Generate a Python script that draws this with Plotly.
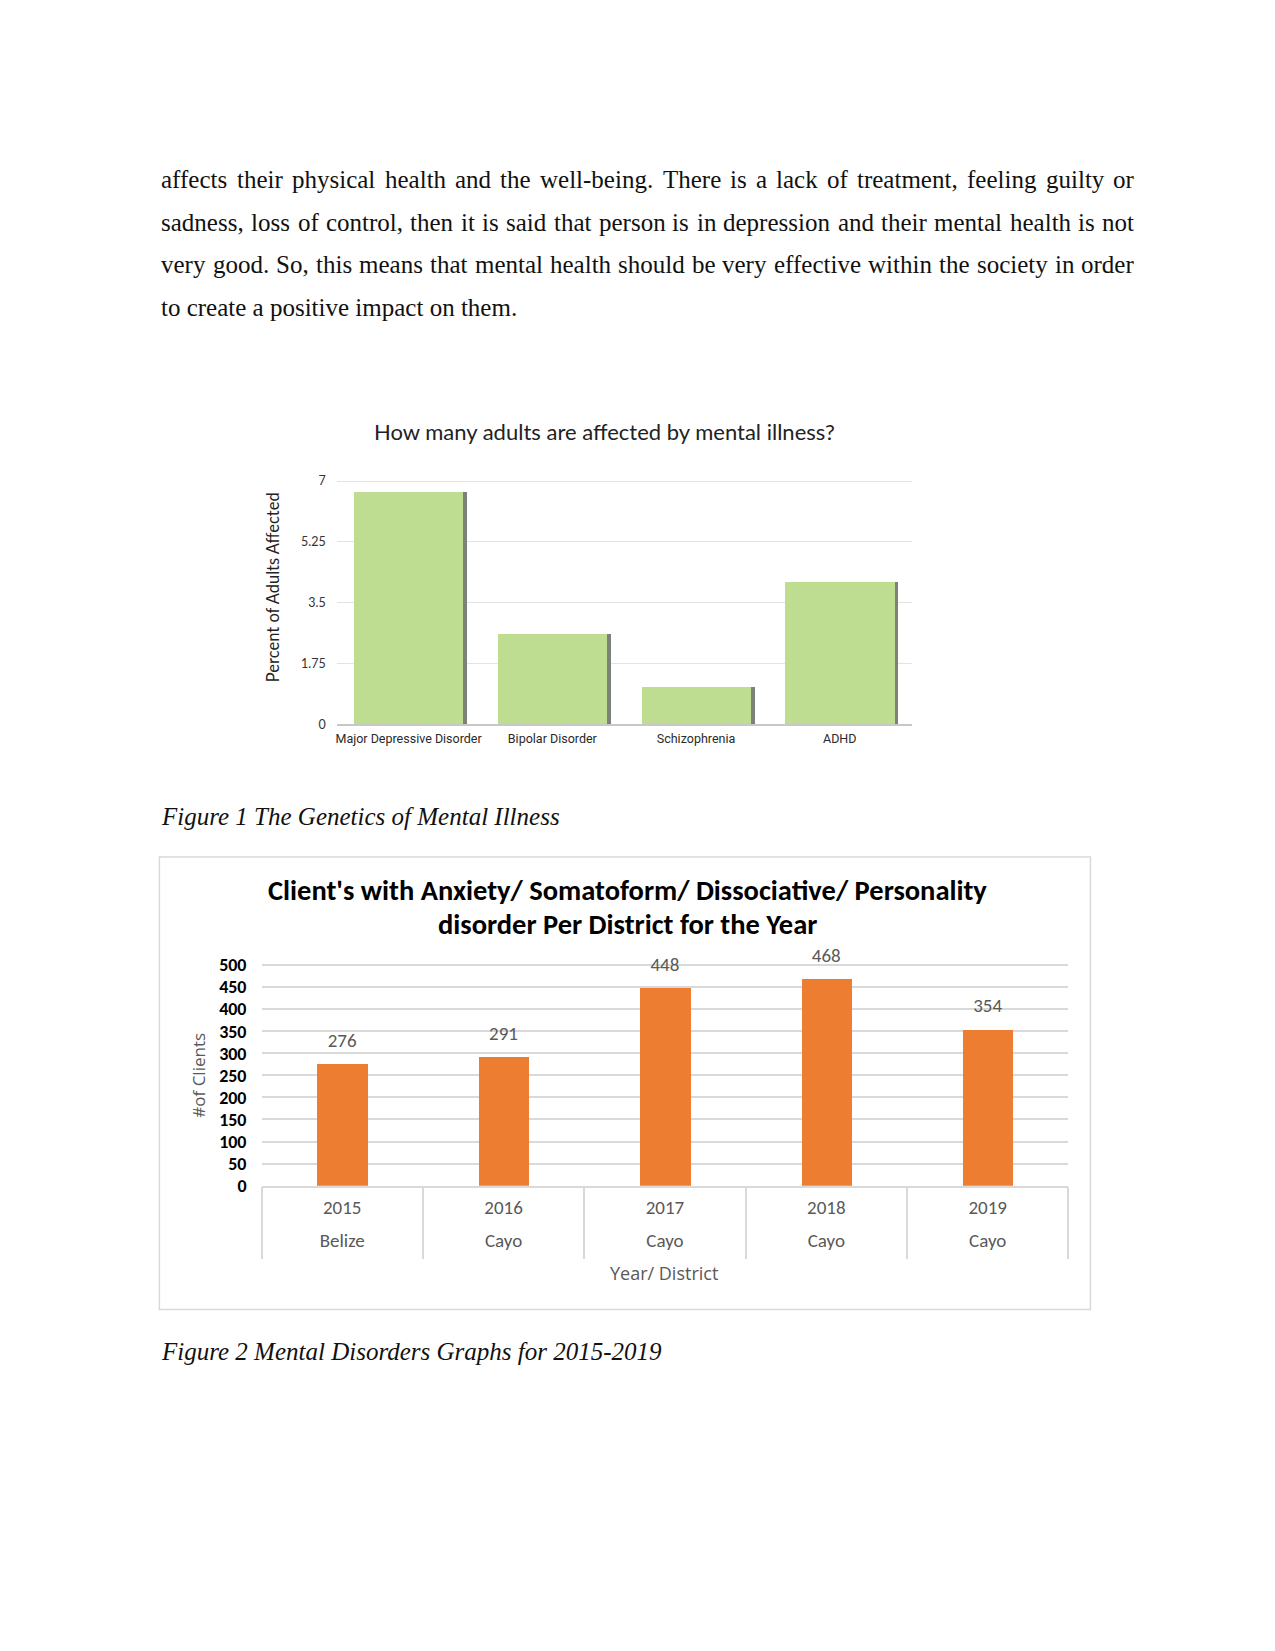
import plotly.graph_objects as go

W, H = 1275, 1651

def px(x):
    return x / W

def py(y):
    return 1 - y / H

# ---------------- data ----------------
fig1_categories = ["Major Depressive Disorder", "Bipolar Disorder", "Schizophrenia", "ADHD"]
fig1_values = [6.7, 2.6, 1.1, 4.1]
fig1_ytick_vals = [0, 1.75, 3.5, 5.25, 7]
fig1_ytick_text = ["0", "1.75", "3.5", "5.25", "7"]

fig2_years = ["2015", "2016", "2017", "2018", "2019"]
fig2_districts = ["Belize", "Cayo", "Cayo", "Cayo", "Cayo"]
fig2_values = [276, 291, 448, 468, 354]
fig2_ytick_vals = [0, 50, 100, 150, 200, 250, 300, 350, 400, 450, 500]

body_lines = [
    "affects their physical health and the well-being. There is a lack of treatment, feeling guilty or",
    "sadness, loss of control, then it is said that person is in depression and their mental health is not",
    "very good. So, this means that mental health should be very effective within the society in order",
    "to create a positive impact on them.",
]
body_justified = [True, True, True, False]

caption1 = "Figure 1 The Genetics of Mental Illness"
caption2 = "Figure 2 Mental Disorders Graphs for 2015-2019"

# ---------------- text layout helpers ----------------
TIMES_W = {
    'a': 444, 'b': 500, 'c': 444, 'd': 500, 'e': 444, 'f': 333, 'g': 500, 'h': 500, 'i': 278,
    'j': 278, 'k': 500, 'l': 278, 'm': 778, 'n': 500, 'o': 500, 'p': 500, 'q': 500, 'r': 333,
    's': 389, 't': 278, 'u': 500, 'v': 500, 'w': 722, 'x': 500, 'y': 500, 'z': 444,
    'A': 722, 'B': 667, 'C': 667, 'D': 722, 'E': 611, 'F': 556, 'G': 722, 'H': 722, 'I': 333,
    'J': 389, 'K': 722, 'L': 611, 'M': 889, 'N': 722, 'O': 722, 'P': 556, 'Q': 722, 'R': 667,
    'S': 556, 'T': 611, 'U': 722, 'V': 722, 'W': 944, 'X': 722, 'Y': 722, 'Z': 611,
    ' ': 250, '.': 250, ',': 250, '-': 333, '?': 444, "'": 333,
}

BODY_SIZE = 25
TEXT_LEFT = 150.5
TEXT_RIGHT = 1124.0
LINE_Y = [165.8, 208.5, 251.6, 294.8]


def word_width(w, size):
    return sum(TIMES_W.get(c, 500) for c in w) * size / 1000.0


# plot-area pixel frames (bottom = value 0, top = top tick)
F1_BOTTOM, F1_TOP = 716.7, 470.5
F2_BOTTOM, F2_TOP = 1183.3, 960.1
f1_max = max(fig1_ytick_vals) * 1.01
f2_max = max(fig2_ytick_vals) * 1.01
f1_top_px = F1_BOTTOM - (F1_BOTTOM - F1_TOP) * f1_max / max(fig1_ytick_vals)
f2_top_px = F2_BOTTOM - (F2_BOTTOM - F2_TOP) * f2_max / max(fig2_ytick_vals)

fig = go.Figure()

# ---------------- Figure 1 ----------------
fig.add_trace(go.Bar(
    x=fig1_categories, y=fig1_values, xaxis="x", yaxis="y",
    width=0.76, offset=-0.38 + 0.027,
    marker=dict(color="#7d8278", line=dict(width=0)),
    hoverinfo="skip", showlegend=False,
))
fig.add_trace(go.Bar(
    x=fig1_categories, y=fig1_values, xaxis="x", yaxis="y",
    width=0.76, offset=-0.38,
    marker=dict(color="#bfdd91", line=dict(width=0)),
    showlegend=False,
))

# ---------------- Figure 2 ----------------
fig.add_trace(go.Bar(
    x=fig2_years, y=fig2_values, xaxis="x2", yaxis="y2",
    width=0.313,
    marker=dict(color="#ed7d31", line=dict(width=0)),
    showlegend=False,
))
# data labels above the bars
fig.add_trace(go.Scatter(
    x=fig2_years, y=fig2_values, xaxis="x2", yaxis="y2",
    mode="markers+text", text=[str(v) for v in fig2_values], textposition="top center",
    marker=dict(size=18, opacity=0),
    textfont=dict(family="Carlito, Lato, sans-serif", size=19, color="#595959"),
    cliponaxis=False, hoverinfo="skip", showlegend=False,
))
# carriers for the district row and the divider ticks
fig.add_trace(go.Scatter(
    x=list(range(len(fig2_districts))), y=[0] * len(fig2_districts), xaxis="x3", yaxis="y2",
    mode="markers", marker=dict(opacity=0), hoverinfo="skip", showlegend=False,
))
fig.add_trace(go.Scatter(
    x=list(range(len(fig2_years))), y=[0] * len(fig2_years), xaxis="x4", yaxis="y2",
    mode="markers", marker=dict(opacity=0), hoverinfo="skip", showlegend=False,
))

fig.update_layout(
    width=W, height=H,
    margin=dict(l=0, r=0, t=0, b=0),
    paper_bgcolor="white", plot_bgcolor="rgba(0,0,0,0)",
    barmode="overlay",
    bargap=0,
    xaxis=dict(
        domain=[px(328.0), px(903.3)], anchor="y",
        showgrid=False, showline=True, linecolor="#c8c8c8", linewidth=1.5,
        ticks="", tickfont=dict(family="Liberation Sans Narrow, Roboto, sans-serif", size=12.5, color="#2a2a2a"),
        ticklabelstandoff=2,
    ),
    yaxis=dict(
        domain=[py(F1_BOTTOM), py(f1_top_px)], anchor="x", range=[0, f1_max],
        tickvals=fig1_ytick_vals, ticktext=fig1_ytick_text,
        showgrid=True, gridcolor="#e3e3e3", gridwidth=1.2,
        zeroline=False, showline=False, ticks="",
        tickfont=dict(family="Lato, sans-serif", size=12.5, color="#333333"),
        ticklabelstandoff=10,
    ),
    xaxis2=dict(
        domain=[px(252.7), px(1060.2)], anchor="y2",
        type="category",
        showgrid=False, showline=True, linecolor="#d9d9d9", linewidth=1.5,
        ticks="", tickfont=dict(family="Carlito, Lato, sans-serif", size=19, color="#595959"),
        ticklabelstandoff=4,
    ),
    xaxis3=dict(
        domain=[px(252.7), px(1060.2)], anchor="y2", overlaying="x2",
        range=[-0.5, len(fig2_districts) - 0.5],
        tickvals=list(range(len(fig2_districts))), ticktext=fig2_districts,
        showgrid=False, showline=False, zeroline=False, ticks="",
        tickfont=dict(family="Carlito, Lato, sans-serif", size=19, color="#595959"),
        ticklabelstandoff=41,
    ),
    xaxis4=dict(
        domain=[px(252.7), px(1060.2)], anchor="y2", overlaying="x2",
        range=[-0.5, len(fig2_years) - 0.5],
        tickvals=[i - 0.5 for i in range(len(fig2_years) + 1)],
        showticklabels=False, showgrid=False, showline=False, zeroline=False,
        ticks="outside", ticklen=72, tickwidth=1.5, tickcolor="#d9d9d9",
    ),
    yaxis2=dict(
        domain=[py(F2_BOTTOM), py(f2_top_px)], anchor="x2", range=[0, f2_max],
        tickvals=fig2_ytick_vals,
        showgrid=True, gridcolor="#d9d9d9", gridwidth=1.8,
        zeroline=False, showline=False, ticks="",
        tickfont=dict(family="Carlito, Lato, sans-serif", size=18, color="#000000", weight="bold"),
        ticklabelstandoff=14,
    ),
)

annotations = []

# body text (justified)
for i, line in enumerate(body_lines):
    words = line.split(" ")
    if body_justified[i]:
        widths = [word_width(w, BODY_SIZE) for w in words]
        gap = (TEXT_RIGHT - TEXT_LEFT - sum(widths)) / (len(words) - 1)
        x = TEXT_LEFT
        for w, ww in zip(words, widths):
            annotations.append(dict(
                text=w, x=px(x), y=py(LINE_Y[i]), xref="paper", yref="paper",
                xanchor="left", yanchor="middle", showarrow=False,
                font=dict(family="Liberation Serif, Times New Roman, serif", size=BODY_SIZE, color="#111111"),
            ))
            x += ww + gap
    else:
        annotations.append(dict(
            text=line, x=px(TEXT_LEFT), y=py(LINE_Y[i]), xref="paper", yref="paper",
            xanchor="left", yanchor="middle", showarrow=False,
            font=dict(family="Liberation Serif, Times New Roman, serif", size=BODY_SIZE, color="#111111"),
        ))

# figure 1 title & axis title
annotations.append(dict(
    text="How many adults are affected by mental illness?", x=px(596), y=py(420),
    xref="paper", yref="paper", xanchor="center", yanchor="middle", showarrow=False,
    font=dict(family="Lato, sans-serif", size=22, color="#222222"),
))
annotations.append(dict(
    text="Percent of Adults Affected", x=px(265), y=py(578), textangle=-90,
    xref="paper", yref="paper", xanchor="center", yanchor="middle", showarrow=False,
    font=dict(family="Lato, sans-serif", size=16.5, color="#222222"),
))

# captions
for cap, yy in [(caption1, 810.0), (caption2, 1350.7)]:
    annotations.append(dict(
        text="<i>" + cap + "</i>", x=px(TEXT_LEFT), y=py(yy),
        xref="paper", yref="paper", xanchor="left", yanchor="middle", showarrow=False,
        font=dict(family="Liberation Serif, Times New Roman, serif", size=BODY_SIZE, color="#111111"),
    ))

# figure 2 title and axis titles
annotations.append(dict(
    text="<b>Client's with Anxiety/ Somatoform/ Dissociative/ Personality</b>", x=px(619), y=py(884.3),
    xref="paper", yref="paper", xanchor="center", yanchor="middle", showarrow=False,
    font=dict(family="Carlito, Lato, sans-serif", size=28.5, color="#000000"),
))
annotations.append(dict(
    text="<b>disorder Per District for the Year</b>", x=px(619), y=py(919),
    xref="paper", yref="paper", xanchor="center", yanchor="middle", showarrow=False,
    font=dict(family="Carlito, Lato, sans-serif", size=28.5, color="#000000"),
))
annotations.append(dict(
    text="#of Clients", x=px(189.5), y=py(1071.7), textangle=-90,
    xref="paper", yref="paper", xanchor="center", yanchor="middle", showarrow=False,
    font=dict(family="Open Sans, sans-serif", size=17, color="#595959"),
))
annotations.append(dict(
    text="Year/ District", x=px(656), y=py(1271.8),
    xref="paper", yref="paper", xanchor="center", yanchor="middle", showarrow=False,
    font=dict(family="Open Sans, sans-serif", size=18, color="#595959"),
))

fig.update_layout(annotations=annotations)

# figure 2 border
fig.add_shape(type="rect", xref="paper", yref="paper",
              x0=px(150.5), x1=px(1082.3), y0=py(1308.6), y1=py(850.7),
              line=dict(color="#d9d9d9", width=1.5), fillcolor="rgba(0,0,0,0)", layer="below")

fig.write_html("out.html")
